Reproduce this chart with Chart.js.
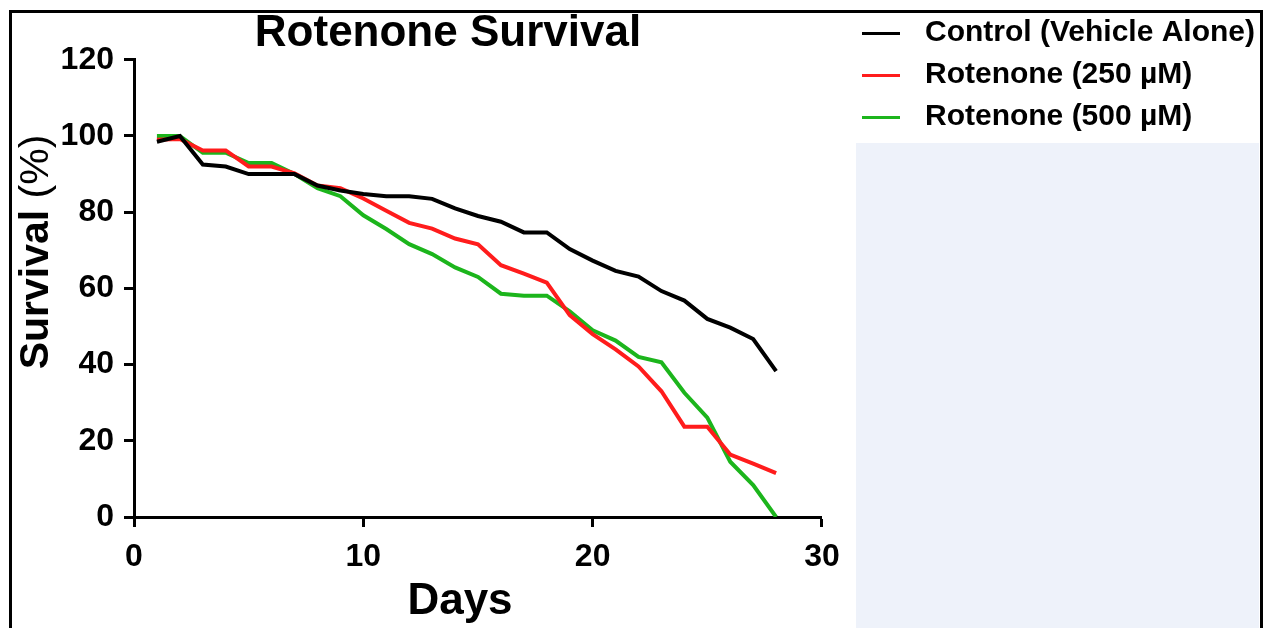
<!DOCTYPE html>
<html>
<head>
<meta charset="utf-8">
<script src="https://cdn.jsdelivr.net/npm/chart.js@4.4.0/dist/chart.umd.min.js"></script>
<style>
html,body{margin:0;padding:0;background:#ffffff;}
#wrap{width:1268px;height:628px;position:relative;overflow:hidden;}
canvas{display:block;}
</style>
</head>
<body>
<div id="wrap"><canvas id="c" width="1268" height="628"></canvas></div>
<script>
// ---- data ----
const days = [1,2,3,4,5,6,7,8,9,10,11,12,13,14,15,16,17,18,19,20,21,22,23,24,25,26,27,28];
const control = [98.5,100,92.5,92,90,90,90,87,85.7,84.8,84.2,84.2,83.5,81,79,77.5,74.7,74.7,70.3,67.3,64.6,63.1,59.3,56.8,52,49.7,46.7,38.3];
const rot250  = [99,99.2,96.2,96.2,92,92,90.2,87,86.3,83.6,80.4,77.2,75.7,73.1,71.6,66.1,63.9,61.5,53,48,44,39.5,33,23.7,23.7,16.4,14,11.5];
const rot500  = [100,100,95.6,95.6,92.9,92.9,90,86.3,84.2,79.2,75.6,71.6,69,65.5,63,58.6,58.1,58.1,54,49,46.3,42,40.6,32.6,26.1,14.5,8.4,0];
const seriesLabels = ['Control (Vehicle Alone)', 'Rotenone (250 µM)', 'Rotenone (500 µM)'];
const xTicks = [0,10,20,30];
const yTicks = [0,20,40,60,80,100,120];
const chartTitle = 'Rotenone Survival';
const xTitle = 'Days';
const yTitleMain = 'Survival';
const yTitleUnit = ' (%)';

// ---- styles ----
const FONT = "'Liberation Sans', Arial, Helvetica, sans-serif";
const colors = ['#000000', '#ff1c1c', '#1cb51c'];
const series = [control, rot250, rot500];

// small legend line markers (drawn by the legend as point-style images)
function makeMarker(color) {
  const c = document.createElement('canvas');
  c.width = 56; c.height = 3;
  const g = c.getContext('2d');
  g.fillStyle = color;
  g.fillRect(18, 0, 38, 3);
  return c;
}

const datasets = series.map((vals, i) => ({
  label: seriesLabels[i],
  data: days.map((d, j) => ({x: d, y: vals[j]})),
  borderColor: colors[i],
  backgroundColor: colors[i],
  borderWidth: 4,
  pointRadius: 0,
  pointHoverRadius: 0,
  pointStyle: makeMarker(colors[i]),
  tension: 0,
  fill: false
}));

const decor = {
  id: 'decor',
  beforeDraw(chart) {
    const ctx = chart.ctx;
    ctx.save();
    ctx.fillStyle = '#ffffff';
    ctx.fillRect(0, 0, chart.width, chart.height);
    // light panel below the legend
    ctx.fillStyle = '#eef2fa';
    ctx.fillRect(856, 143, 1259 - 856, chart.height - 143);
    // frame
    ctx.strokeStyle = '#000000';
    ctx.lineWidth = 3;
    ctx.beginPath();
    ctx.moveTo(10.5, chart.height + 5);
    ctx.lineTo(10.5, 11.5);
    ctx.lineTo(1261.5, 11.5);
    ctx.lineTo(1261.5, chart.height + 5);
    ctx.stroke();
    ctx.restore();
  },
  afterLayout(chart) {
    const t = chart.titleBlock;
    if (t) { t.left -= 30; t.right -= 30; }
  },
  afterDraw(chart) {
    const ctx = chart.ctx;
    ctx.save();
    ctx.fillStyle = '#000000';
    // x axis title
    ctx.font = 'bold 44px ' + FONT;
    ctx.textAlign = 'center';
    ctx.textBaseline = 'alphabetic';
    ctx.fillText(xTitle, 460, 614);
    // y axis title, rotated, mixed weight
    ctx.translate(48, 252);
    ctx.rotate(-Math.PI / 2);
    ctx.font = 'bold 41px ' + FONT;
    const w1 = ctx.measureText(yTitleMain).width;
    ctx.font = '41px ' + FONT;
    const w2 = ctx.measureText(yTitleUnit).width;
    const start = -(w1 + w2) / 2;
    ctx.textAlign = 'left';
    ctx.font = 'bold 41px ' + FONT;
    ctx.fillText(yTitleMain, start, 0);
    ctx.font = '41px ' + FONT;
    ctx.fillText(yTitleUnit, start + w1, 0);
    ctx.restore();
  }
};

new Chart(document.getElementById('c'), {
  type: 'line',
  data: { datasets },
  options: {
    responsive: false,
    animation: false,
    events: [],
    layout: { padding: { left: 0, right: 3, top: 6, bottom: 0 } },
    plugins: {
      tooltip: { enabled: false },
      title: {
        display: true,
        text: chartTitle,
        fullSize: false,
        color: '#000000',
        font: { family: FONT, size: 44, weight: 'bold' },
        padding: { top: 1, bottom: 0 }
      },
      legend: {
        display: true,
        position: 'right',
        align: 'start',
        maxWidth: 600,
        labels: {
          color: '#000000',
          font: { family: FONT, size: 30, weight: 'bold' },
          usePointStyle: true,
          pointStyleWidth: 76,
          boxHeight: 27,
          padding: 12
        }
      }
    },
    scales: {
      x: {
        type: 'linear',
        min: 0, max: 30,
        afterBuildTicks: s => { s.ticks = xTicks.map(v => ({value: v})); },
        afterFit: s => { s.height = 111; },
        ticks: { color: '#000000', font: { family: FONT, size: 32, weight: 'bold' }, padding: 11, maxRotation: 0 },
        grid: { display: true, drawOnChartArea: false, drawTicks: true, tickLength: 10, tickWidth: 3, tickColor: '#000000' },
        border: { display: true, color: '#000000', width: 3 }
      },
      y: {
        type: 'linear',
        min: 0, max: 120,
        afterBuildTicks: s => { s.ticks = yTicks.map(v => ({value: v})); },
        afterFit: s => { s.width = 134; },
        ticks: { color: '#000000', font: { family: FONT, size: 32, weight: 'bold' }, padding: 10 },
        grid: { display: true, drawOnChartArea: false, drawTicks: true, tickLength: 10, tickWidth: 3, tickColor: '#000000' },
        border: { display: true, color: '#000000', width: 3 }
      }
    }
  },
  plugins: [decor]
});
</script>
</body>
</html>
